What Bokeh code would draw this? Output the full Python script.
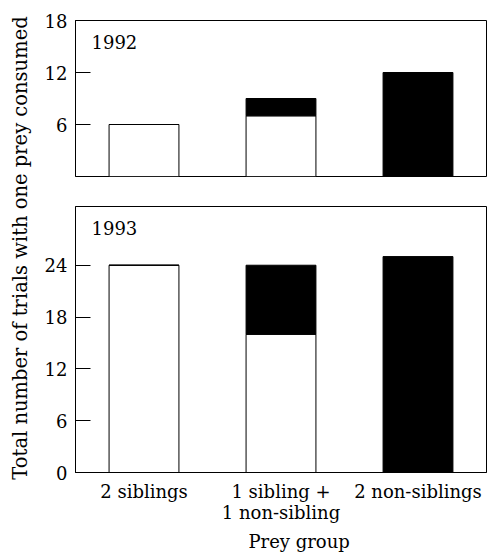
from math import pi
from bokeh.plotting import figure
from bokeh.models import Label, FixedTicker, Range1d, FactorRange, ColumnDataSource
from bokeh.layouts import row, column
from bokeh.embed import file_html
from bokeh.resources import INLINE

# ---- data ----
groups = ["2 siblings", "1 sibling +\n1 non-sibling", "2 non-siblings"]
series = ["siblings", "non_siblings"]
sib_1992 = [6, 7, 0]
non_1992 = [0, 2, 12]
sib_1993 = [24, 16, 0]
non_1993 = [0, 8, 25]
ticks_1992 = [6, 12, 18]
ticks_1993 = [0, 6, 12, 18, 24]
ymax_1992 = 18
ymax_1993 = 30.8
years = ["1992", "1993"]
y_label = "Total number of trials with one prey consumed"
x_label = "Prey group"

FONT = "DejaVu Serif"
FS = "18px"

# ---- layout constants ----
LABEL_W = 34
FIG_W = 453
BL = 41
BR = 1
T_TOP, T_FRAME, T_BOT = 20, 156, 15
B_TOP, B_FRAME, B_BOT = 15, 266, 58
XL_H = 22


def make_panel(sib, non, ticks, ymax, year, frame_h, btop, bbot, show_x):
    src = ColumnDataSource(dict(group=groups, siblings=sib, non_siblings=non))
    p = figure(x_range=FactorRange(*groups), y_range=Range1d(0, ymax),
               width=FIG_W, height=btop + frame_h + bbot,
               output_backend="svg", toolbar_location=None,
               min_border_left=BL, min_border_right=BR,
               min_border_top=btop, min_border_bottom=bbot)
    p.vbar_stack(series, x="group", width=0.51, source=src,
                 color=["white", "black"], line_color="black", line_width=1)
    p.xgrid.visible = False
    p.ygrid.visible = False
    p.outline_line_color = "black"
    p.outline_line_alpha = 1
    p.outline_line_width = 1
    p.background_fill_color = "white"
    p.border_fill_color = "white"

    ya = p.yaxis[0]
    ya.ticker = FixedTicker(ticks=ticks)
    ya.major_tick_in = 15
    ya.major_tick_out = 0
    ya.minor_tick_line_color = None
    ya.axis_line_color = "black"
    ya.major_tick_line_color = "black"
    ya.major_label_standoff = 8
    ya.major_label_text_font = FONT
    ya.major_label_text_font_size = FS
    ya.major_label_text_color = "black"

    px_per_unit = frame_h / ymax
    cat_px = (FIG_W - BL - BR) / len(groups)

    xa = p.xaxis[0]
    if show_x:
        xa.major_tick_in = 0
        xa.major_tick_out = 0
        xa.axis_line_color = "black"
        xa.major_label_standoff = 8
        xa.major_label_text_font = FONT
        xa.major_label_text_font_size = FS
        xa.major_label_text_color = "black"
        xa.major_label_text_line_height = 1.0
    else:
        xa.visible = False

    p.add_layout(Label(x=16 / cat_px, y=ymax - 14 / px_per_unit, text=year,
                       text_font=FONT, text_font_size=FS, text_color="black",
                       text_align="left", text_baseline="top"))
    return p


top = make_panel(sib_1992, non_1992, ticks_1992, ymax_1992, years[0],
                 T_FRAME, T_TOP, T_BOT, False)
bot = make_panel(sib_1993, non_1993, ticks_1993, ymax_1993, years[1],
                 B_FRAME, B_TOP, B_BOT, True)

# x-axis title strip
xl = figure(width=FIG_W, height=XL_H, x_range=Range1d(0, FIG_W),
            y_range=Range1d(0, XL_H), output_backend="svg",
            toolbar_location=None, min_border=0)
xl.axis.visible = False
xl.grid.visible = False
xl.outline_line_color = None
xl.add_layout(Label(x=BL + (FIG_W - BL - BR) / 2, y=XL_H - 11, text=x_label,
                    text_font=FONT, text_font_size=FS, text_color="black",
                    text_align="center", text_baseline="middle"))

total_h = T_TOP + T_FRAME + T_BOT + B_TOP + B_FRAME + B_BOT + XL_H
lab = figure(width=LABEL_W, height=total_h, x_range=Range1d(0, LABEL_W),
             y_range=Range1d(0, total_h), output_backend="svg",
             toolbar_location=None, min_border=0)
lab.axis.visible = False
lab.grid.visible = False
lab.outline_line_color = None
center_from_top = 247.5
lab.add_layout(Label(x=20, y=total_h - center_from_top, text=y_label,
                     angle=pi / 2, text_font=FONT, text_font_size="19.5px",
                     text_color="black", text_align="center",
                     text_baseline="middle"))

layout = row(lab, column(top, bot, xl))
open("out.html", "w").write(file_html(layout, INLINE))
